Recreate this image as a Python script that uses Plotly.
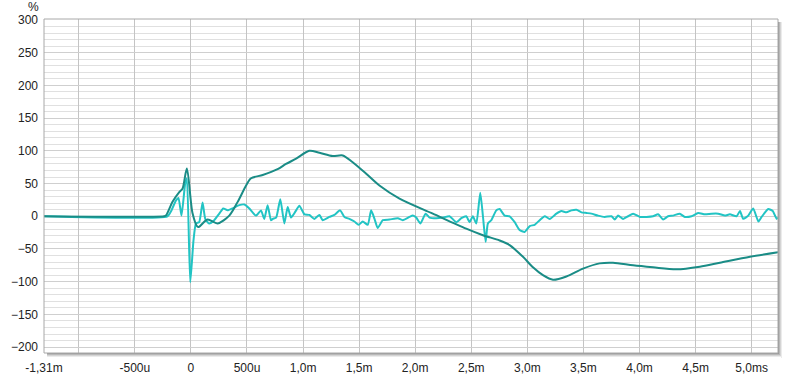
import plotly.graph_objects as go

# Step response (dark teal), time in ms, value in %
step_t = [-1.31, -0.24, -0.223, -0.164, -0.104, -0.075, -0.036, 0.014, 0.059, 0.074,
          0.148, 0.238, 0.342, 0.417, 0.492, 0.536, 0.640, 0.773, 0.848, 0.938,
          1.056, 1.146, 1.264, 1.354, 1.440, 1.563, 1.681, 1.860, 2.157, 2.455,
          2.604, 2.753, 2.842, 2.961, 3.050, 3.139, 3.229, 3.348, 3.496, 3.645,
          3.764, 3.943, 4.121, 4.330, 4.538, 4.717, 4.985, 5.235]
step_v = [0, 0, 1, 22, 37, 42, 73, 5, -16, -16,
          -5, -11, 1, 22, 47, 58, 63, 72, 80, 88,
          100, 97, 92, 93, 83, 65, 47, 27, 4, -19,
          -29, -37, -44, -62, -78, -90, -97, -92, -80, -72,
          -71, -75, -78, -81, -77, -71, -62, -55]

# Impulse response (cyan), time in ms, value in %
imp_t = [-1.31, -0.209, -0.176, -0.134, -0.111, -0.084, -0.051, -0.036, -0.006, 0.023,
         0.045, 0.074, 0.104, 0.128, 0.163, 0.208, 0.253, 0.288, 0.327, 0.371,
         0.431, 0.476, 0.521, 0.580, 0.625, 0.654, 0.684, 0.714, 0.730, 0.760,
         0.797, 0.833, 0.863, 0.893, 0.931, 0.967, 1.012, 1.056, 1.101, 1.146,
         1.175, 1.235, 1.279, 1.330, 1.369, 1.413, 1.458, 1.496, 1.532, 1.577,
         1.607, 1.637, 1.666, 1.711, 1.771, 1.845, 1.889, 1.949, 1.979, 2.009,
         2.047, 2.092, 2.128, 2.188, 2.246, 2.306, 2.366, 2.411, 2.455, 2.485,
         2.514, 2.545, 2.580, 2.604, 2.628, 2.648, 2.679, 2.723, 2.753, 2.797,
         2.842, 2.887, 2.931, 2.976, 3.021, 3.065, 3.110, 3.155, 3.199, 3.259,
         3.304, 3.348, 3.393, 3.438, 3.482, 3.527, 3.571, 3.630, 3.690, 3.750,
         3.779, 3.809, 3.854, 3.898, 3.943, 4.003, 4.063, 4.121, 4.166, 4.211,
         4.255, 4.300, 4.359, 4.404, 4.464, 4.523, 4.583, 4.643, 4.702, 4.762,
         4.806, 4.866, 4.896, 4.925, 4.970, 5.014, 5.060, 5.089, 5.148, 5.188,
         5.223, 5.235]
imp_v = [0, 0, 8, 24, 28, 1, 50, 58, -101, -37,
         -11, -9, 21, -4, -11, -6, 4, 12, 9, 12,
         17, 18, 12, 1, 9, -4, 17, -6, -4, -2,
         26, -11, 14, -2, 7, 16, 3, 2, -4, 2,
         -6, -1, 2, 9, -1, -4, -8, -13, -8, -13,
         9, -4, -18, -6, -5, -3, -6, -1, 1, -2,
         -11, 4, -2, -3, -2, 0, -9, -3, 0, -9,
         0, -11, 36, 0, -39, -11, -6, 9, 11, 1,
         0, -9, -21, -24, -15, -13, -6, 0, -4, 4,
         8, 6, 9, 10, 6, 5, 4, 1, -1, 0,
         -5, 1, -4, 0, 4, -1, -1, 0, 3, -5,
         0, 1, 4, -1, 0, 5, 3, 4, 4, 1,
         3, 0, 8, -4, 1, 12, -8, -1, 11, 8,
         -4, -2]

x_tickvals = [-1.31, -1.0, -0.5, 0, 0.5, 1.0, 1.5, 2.0, 2.5, 3.0, 3.5, 4.0, 4.5, 5.0]
x_ticktext = ["-1,31m", "", "-500u", "0", "500u", "1,0m", "1,5m", "2,0m", "2,5m",
              "3,0m", "3,5m", "4,0m", "4,5m", "5,0ms"]
y_tickvals = [300, 250, 200, 150, 100, 50, 0, -50, -100, -150, -200]

fig = go.Figure()
fig.add_trace(go.Scatter(x=imp_t, y=imp_v, mode="lines",
                         line=dict(color="#22c4c4", width=2, shape="spline", smoothing=0.5),
                         hoverinfo="skip"))
fig.add_trace(go.Scatter(x=step_t, y=step_v, mode="lines",
                         line=dict(color="#1a8c86", width=2, shape="spline", smoothing=0.8),
                         hoverinfo="skip"))

font = dict(family="Liberation Sans, Arial, sans-serif", size=12, color="#222222")

fig.update_layout(
    width=800, height=378,
    margin=dict(l=44, r=22, t=19, b=25, autoexpand=False),
    paper_bgcolor="white", plot_bgcolor="white",
    showlegend=False, font=font,
    xaxis=dict(range=[-1.31, 5.235], tickvals=x_tickvals, ticktext=x_ticktext,
               showgrid=True, gridcolor="#c4c4c4", gridwidth=1, zeroline=False,
               ticks="", ticklabelstandoff=6, showline=False, fixedrange=True,
               automargin=False),
    yaxis=dict(range=[-209, 301.5], tickvals=y_tickvals,
               showgrid=True, gridcolor="#cfcfcf", gridwidth=1, zeroline=False,
               minor=dict(dtick=10, showgrid=True, gridcolor="#e0e0e0", gridwidth=1),
               ticks="", ticklabelstandoff=5, showline=False, fixedrange=True,
               automargin=False),
)

# frame + drop shadow (paper coordinates)
px = 1.0 / 734
py = 1.0 / 334
shapes = []
for i, c in enumerate(["#9a9a9a", "#b8b8b8", "#d4d4d4", "#ebebeb"]):
    off = i + 1
    shapes.append(dict(type="rect", xref="paper", yref="paper",
                       x0=1 + (off - 1) * px, x1=1 + off * px, y0=-(off + 1) * py, y1=1 - 3 * py,
                       line=dict(width=0), fillcolor=c, layer="above"))
    shapes.append(dict(type="rect", xref="paper", yref="paper",
                       x0=3 * px, x1=1 + off * px, y0=-off * py, y1=-(off - 1) * py,
                       line=dict(width=0), fillcolor=c, layer="above"))
shapes.append(dict(type="rect", xref="paper", yref="paper", x0=0, x1=1, y0=0, y1=1,
                   line=dict(color="#a8a8a8", width=1), layer="above"))
fig.update_layout(shapes=shapes)

fig.add_annotation(text="%", xref="paper", yref="paper", x=-11 * px, y=1 + 12 * py,
                   xanchor="center", yanchor="middle", showarrow=False, font=font)

fig.write_html("out.html")
